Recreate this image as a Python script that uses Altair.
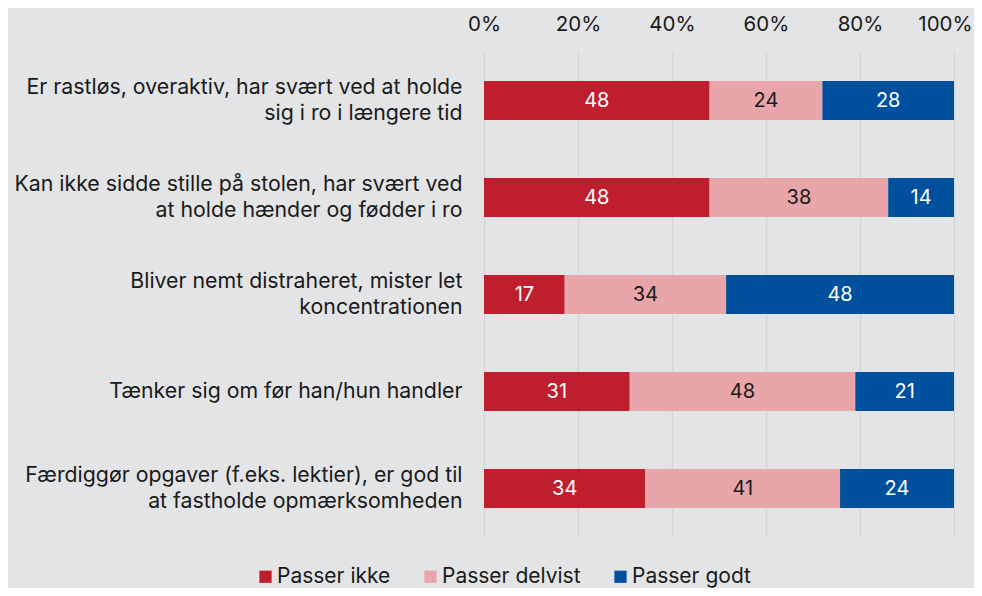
import altair as alt
import pandas as pd

items = [
    "Er rastløs, overaktiv, har svært ved at holde|sig i ro i længere tid",
    "Kan ikke sidde stille på stolen, har svært ved|at holde hænder og fødder i ro",
    "Bliver nemt distraheret, mister let|koncentrationen",
    "Tænker sig om før han/hun handler",
    "Færdiggør opgaver (f.eks. lektier), er god til|at fastholde opmærksomheden",
]
categories = ["Passer ikke", "Passer delvist", "Passer godt"]
passer_ikke = [48, 48, 17, 31, 34]
passer_delvist = [24, 38, 34, 48, 41]
passer_godt = [28, 14, 48, 21, 24]
colors = ["#be1e2d", "#e8a6ab", "#00509e"]
text_colors = ["#ffffff", "#1a1a1a", "#ffffff"]
x_ticks = [0, 0.2, 0.4, 0.6, 0.8, 1.0]

rows = []
for i, item in enumerate(items):
    for j, (cat, vals) in enumerate(zip(categories, [passer_ikke, passer_delvist, passer_godt])):
        rows.append({"item": item, "cat": cat, "order": j, "value": vals[i], "tcolor": text_colors[j]})
df = pd.DataFrame(rows)

FONT = "Inter"

base = alt.Chart(df).transform_stack(
    stack="value", as_=["x0", "x1"], groupby=["item"],
    sort=[alt.SortField("order")], offset="normalize"
)

y_enc = alt.Y(
    "item:N", sort=items, title=None,
    scale=alt.Scale(paddingInner=0.6, paddingOuter=0.3),
    axis=alt.Axis(labelExpr="split(datum.label, '|')", labelAlign="right",
                  labelBaseline={"condition": {"test": "indexof(datum.value, '|') >= 0",
                                               "value": "line-bottom"},
                                 "value": "middle"},
                  labelPadding=22, labelFontSize=21.3, labelLimit=600,
                  labelLineHeight=26, ticks=False, domain=False, grid=False,
                  labelColor="#1a1a1a", labelFont=FONT),
)

bars = base.mark_bar().encode(
    x=alt.X("x0:Q", scale=alt.Scale(domain=[0, 1]), title=None,
            axis=alt.Axis(orient="top", format=".0%", values=x_ticks,
                          labelFontSize=20.5, labelPadding=18, ticks=False,
                          labelFlush=False,
                          labelOffset={"condition": {"test": "datum.value >= 1", "value": -9},
                                       "value": 0},
                          domain=False, grid=True, gridColor="#d3d4d6",
                          gridWidth=1.2, labelColor="#1a1a1a", labelFont=FONT)),
    x2="x1:Q",
    y=y_enc,
    color=alt.Color("cat:N", scale=alt.Scale(domain=categories, range=colors),
                    sort=categories,
                    legend=alt.Legend(title=None, orient="none", direction="horizontal",
                                      legendX=-229, legendY=514, symbolType="square",
                                      symbolSize=150, symbolStrokeWidth=0,
                                      labelFontSize=21, labelFont=FONT,
                                      labelColor="#1a1a1a", columnPadding=29,
                                      labelOffset=1)),
)

labels = base.transform_calculate(mid="(datum.x0 + datum.x1) / 2").mark_text(
    fontSize=20, font=FONT
).encode(
    x="mid:Q",
    y=alt.Y("item:N", sort=items),
    text="value:Q",
    color=alt.Color("tcolor:N", scale=None),
)

chart = alt.layer(bars, labels).properties(
    width=470, height=485,
    background="#e3e4e6",
    padding={"left": 476, "top": 44, "right": 20, "bottom": 51},
    autosize=alt.AutoSizeParams(type="none"),
).configure_view(stroke=None)

chart.save("out.html", embed_options={"renderer": "svg", "actions": False})
